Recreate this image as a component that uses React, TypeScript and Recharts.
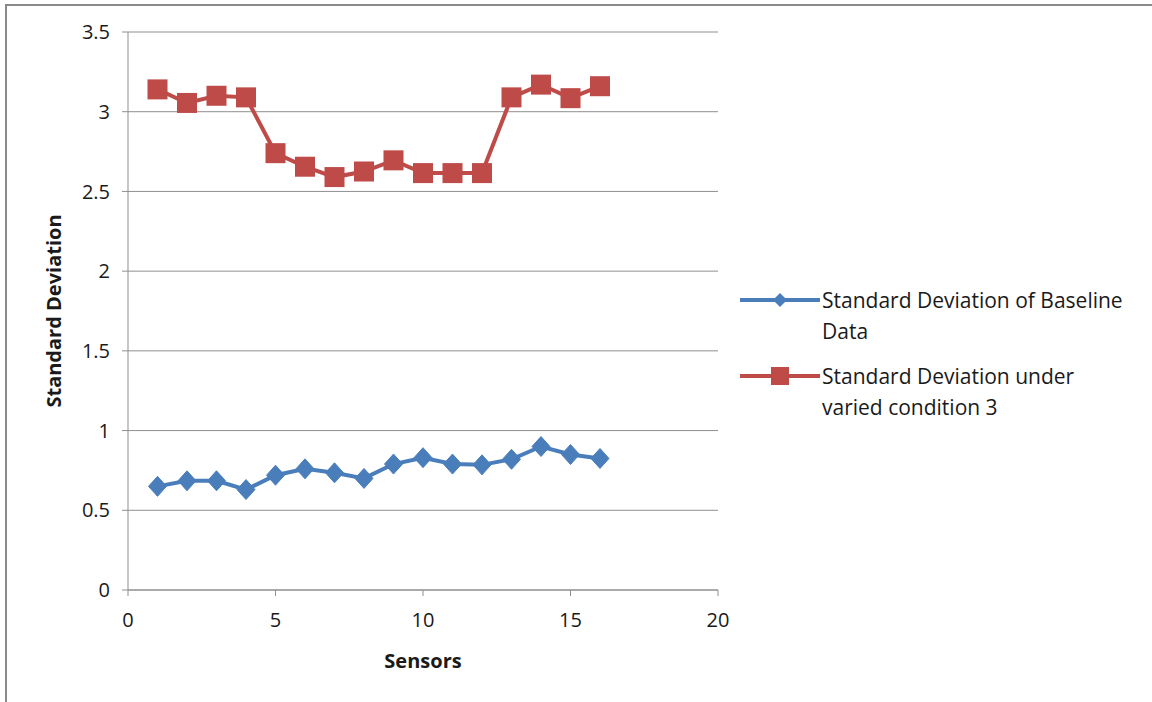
import React from "react";
import { LineChart, Line, XAxis, YAxis, CartesianGrid } from "recharts";

const sensors = [1, 2, 3, 4, 5, 6, 7, 8, 9, 10, 11, 12, 13, 14, 15, 16];
const baseline = [0.65, 0.685, 0.685, 0.63, 0.72, 0.76, 0.735, 0.70, 0.79, 0.83, 0.79, 0.785, 0.82, 0.90, 0.85, 0.825];
const condition3 = [3.14, 3.055, 3.10, 3.09, 2.74, 2.655, 2.59, 2.625, 2.695, 2.615, 2.615, 2.615, 3.09, 3.17, 3.085, 3.16];
const xTicks = [0, 5, 10, 15, 20];
const yTicks = [0, 0.5, 1, 1.5, 2, 2.5, 3, 3.5];

const baselineName = "Standard Deviation of Baseline Data";
const condName = "Standard Deviation under varied condition 3";
const legendLines1 = ["Standard Deviation of Baseline", "Data"];
const legendLines2 = ["Standard Deviation under", "varied condition 3"];
const BLUE = "#4A7EBB";
const RED = "#BE4B48";
const FONT = "'Open Sans', 'Noto Sans', sans-serif";

const data = sensors.map((s, i) => ({ sensor: s, baseline: baseline[i], cond: condition3[i] }));

const Diamond = (props: any) => {
  const { cx, cy, index } = props;
  if (cx == null || cy == null) return <g key={`d${index}`} />;
  return (
    <path
      key={`d${index}`}
      d={`M${cx},${cy - 10} L${cx + 9},${cy} L${cx},${cy + 10} L${cx - 9},${cy} Z`}
      fill={BLUE}
      stroke={BLUE}
      strokeWidth={1}
    />
  );
};

const Square = (props: any) => {
  const { cx, cy, index } = props;
  if (cx == null || cy == null) return <g key={`s${index}`} />;
  return <rect key={`s${index}`} x={cx - 10} y={cy - 10} width={20} height={20} fill={RED} />;
};

const LegendBox = () => {
  const items = [
    { color: BLUE, lines: legendLines1, shape: "diamond", name: baselineName },
    { color: RED, lines: legendLines2, shape: "square", name: condName },
  ];
  return (
    <div
      style={{
        position: "absolute",
        left: 738,
        top: 285,
        width: 412,
        fontFamily: FONT,
        fontSize: 21,
        color: "#1a1a1a",
      }}
    >
      {items.map((it, i) => (
        <div key={i} title={it.name} style={{ display: "flex", alignItems: "flex-start", marginBottom: 14 }}>
          <svg width={84} height={30} style={{ flex: "none" }}>
            <line x1={2} y1={15} x2={82} y2={15} stroke={it.color} strokeWidth={4} />
            {it.shape === "diamond" ? (
              <path d="M42,8 L49,15 L42,22 L35,15 Z" fill={it.color} />
            ) : (
              <rect x={33} y={6} width={18} height={18} fill={it.color} />
            )}
          </svg>
          <div style={{ lineHeight: "31px", whiteSpace: "nowrap" }}>
            {it.lines.map((l, j) => (
              <div key={j}>{l}</div>
            ))}
          </div>
        </div>
      ))}
    </div>
  );
};

export default function App() {
  return (
    <div style={{ position: "fixed", left: 0, top: 0, width: 1152, height: 702, background: "#fff" }}>
      <div
        style={{
          position: "absolute",
          left: 5,
          top: 4,
          width: 1147,
          height: 698,
          borderTop: "2px solid #8a8a8a",
          borderLeft: "2px solid #8a8a8a",
          boxSizing: "border-box",
        }}
      />
      <LineChart
        width={1152}
        height={702}
        data={data}
        margin={{ top: 32, right: 434, bottom: 22, left: 68 }}
        style={{ position: "absolute", left: 0, top: 0 }}
      >
        <CartesianGrid horizontal={true} vertical={false} stroke="#8f8f8f" strokeWidth={1} />
        <XAxis
          dataKey="sensor"
          type="number"
          domain={[0, 20]}
          ticks={xTicks}
          height={90}
          stroke="#8f8f8f"
          tickSize={6}
          tickMargin={17}
          tick={{ fill: "#1a1a1a", fontSize: 20, fontFamily: FONT }}
          label={{ value: "Sensors", position: "insideBottom", offset: 12, fill: "#1a1a1a", fontSize: 20, fontWeight: "bold", fontFamily: FONT }}
        />
        <YAxis
          type="number"
          domain={[0, 3.5]}
          ticks={yTicks}
          width={60}
          stroke="#8f8f8f"
          tickSize={6}
          tickMargin={12}
          interval={0}
          tick={{ fill: "#1a1a1a", fontSize: 20, fontFamily: FONT }}
          label={{
            value: "Standard Deviation",
            angle: -90,
            position: "insideLeft",
            offset: -14,
            style: { textAnchor: "middle" },
            fill: "#1a1a1a",
            fontSize: 20,
            fontWeight: "bold",
            fontFamily: FONT,
          }}
        />
        <Line
          name={baselineName}
          dataKey="baseline"
          stroke={BLUE}
          strokeWidth={4}
          dot={Diamond}
          activeDot={false}
          isAnimationActive={false}
        />
        <Line
          name={condName}
          dataKey="cond"
          stroke={RED}
          strokeWidth={4}
          dot={Square}
          activeDot={false}
          isAnimationActive={false}
        />
      </LineChart>
      <LegendBox />
    </div>
  );
}
